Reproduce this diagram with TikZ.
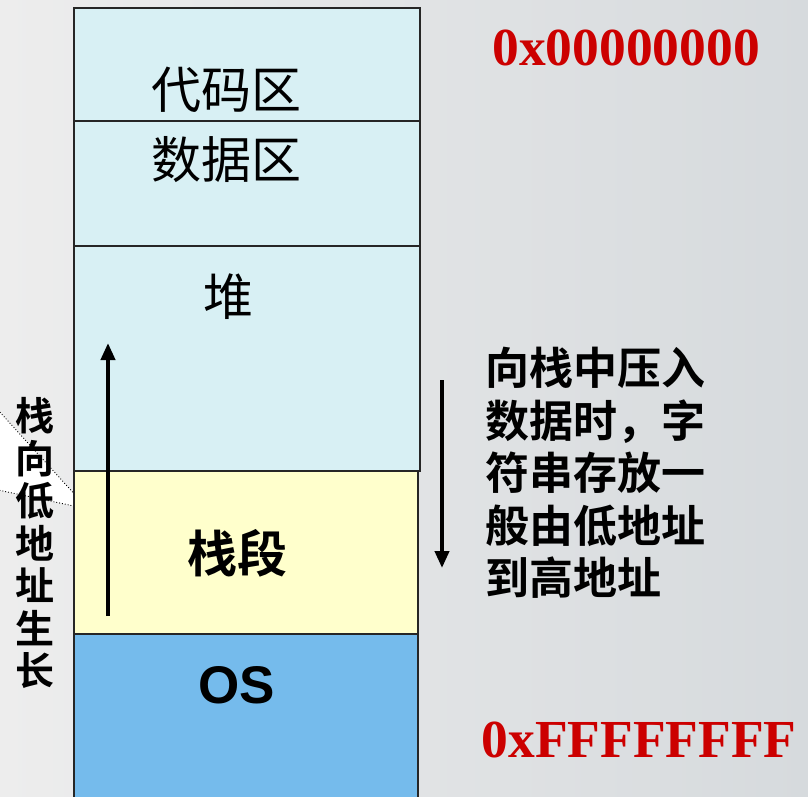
\documentclass[tikz,border=0pt]{standalone}
\usepackage{fontspec}
\setmainfont{Liberation Serif}
\newfontfamily\cjk{Noto Sans CJK SC}
\newfontfamily\cjkb{Noto Sans CJK SC Bold}
\newfontfamily\arialf{Liberation Sans}
\usetikzlibrary{arrows.meta}
\definecolor{cyanbox}{HTML}{D8F0F4}
\definecolor{yelbox}{HTML}{FFFFCC}
\definecolor{osbox}{HTML}{75BBEC}
\definecolor{addrred}{HTML}{CC0000}
\definecolor{bgl}{HTML}{EDEDED}
\definecolor{bgr}{HTML}{D6DADD}
\tikzset{
  cell/.style={draw=black!85, line width=2pt, inner sep=0pt, anchor=north west},
  lbl/.style={font=\cjk\fontsize{50}{54}\selectfont, inner sep=0pt},
  addr/.style={font=\bfseries\fontsize{53.5}{56}\selectfont, text=addrred, inner sep=0pt},
  side/.style={font=\cjkb\fontsize{44}{52.5}\selectfont, align=left, inner sep=0pt},
  vert/.style={font=\cjkb\fontsize{39}{42.5}\selectfont, align=center, inner sep=0pt},
  growarrow/.style={line width=4pt, -{Triangle[length=17pt,width=14pt]}}
}
\begin{document}
\begin{tikzpicture}[x=1pt,y=-1pt]
\useasboundingbox (0,0) rectangle (808,796);
\shade[left color=bgl, right color=bgr] (0,0) rectangle (808,796);
% callout wedge
\filldraw[fill=white, draw=black, dotted, line width=0.9pt] (-2,410) -- (88,509) -- (-2,490);
% memory cells
\node[cell, fill=cyanbox, minimum width=346pt, minimum height=113pt] (code) at (73,7) {};
\node[cell, fill=cyanbox, minimum width=346pt, minimum height=125pt] (data) at (73,120) {};
\node[cell, fill=cyanbox, minimum width=346pt, minimum height=225pt] (heap) at (73,245) {};
\node[cell, fill=yelbox, minimum width=344pt, minimum height=163pt] (stack) at (73,470) {};
\node[cell, fill=osbox, minimum width=344pt, minimum height=170pt] (os) at (73,633) {};
% labels
\node[lbl] (codet) at (226,90) {代码区};
\node[lbl] (datat) at (226,160) {数据区};
\node[lbl] (heapt) at (228,297) {堆};
\node[font=\cjkb\fontsize{50}{54}\selectfont, inner sep=0pt] (stackt) at (237,553) {栈段};
\node[font=\arialf\bfseries\fontsize{53}{56}\selectfont, inner sep=0pt] (ost) at (237,685) {OS};
% addresses
\node[addr] (a0) at (626,48) {0x00000000};
\node[addr] (af) at (639,740) {0xFFFFFFFF};
% arrows
\coordinate (upS) at (108,616);
\coordinate (upE) at (108,343);
\draw[growarrow] (upS) -- (upE);
\coordinate (dnS) at (442,380);
\coordinate (dnE) at (442,568);
\draw[growarrow] (dnS) -- (dnE);
% right text
\node[side, anchor=north west] (rtext) at (485,347) {向栈中压入\\数据时，字\\符串存放一\\般由低地址\\到高地址};
% vertical text
\node[vert] (vtext) at (35,543) {栈\\向\\低\\地\\址\\生\\长};
\end{tikzpicture}
\end{document}
